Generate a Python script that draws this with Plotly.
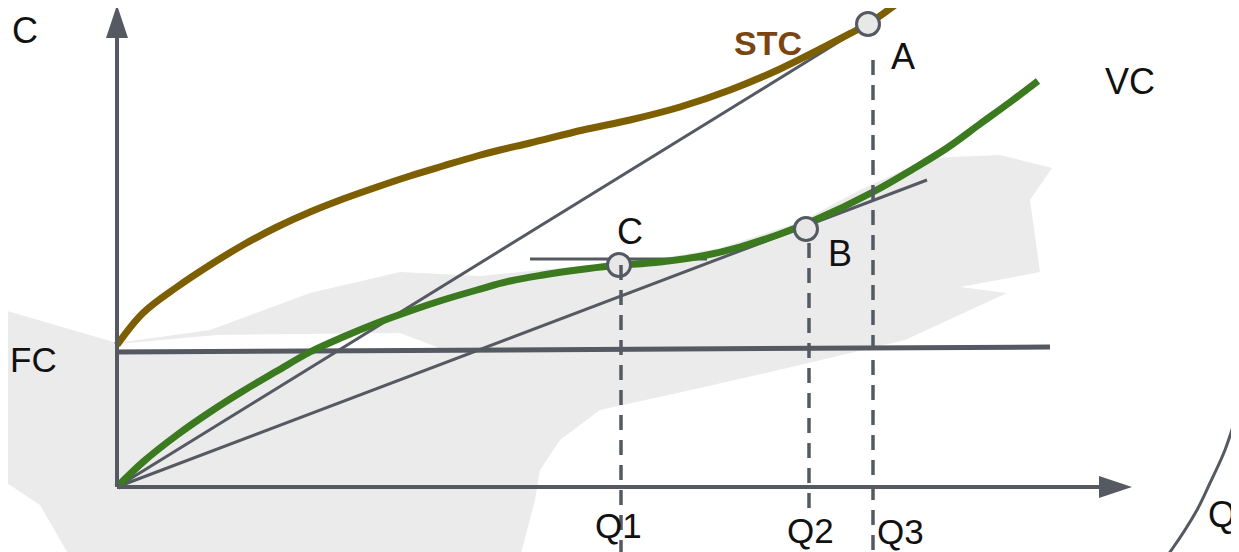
import plotly.graph_objects as go

# ---------------- data (1 unit of Q or C = 100 px in the picture) ----------------
stc_q = [0.00, 0.26, 0.60, 0.93, 1.26, 1.60, 1.93, 2.26, 2.60, 2.93, 3.26, 3.60, 3.83,
         4.13, 4.66, 5.13, 5.63, 6.13, 6.63, 7.38, 7.51, 7.82, 7.98]
stc_c = [1.42, 1.74, 2.00, 2.22, 2.42, 2.60, 2.75, 2.88, 3.00, 3.11, 3.21, 3.31, 3.37,
         3.44, 3.57, 3.67, 3.80, 3.97, 4.18, 4.56, 4.63, 4.85, 4.98]

vc_q = [0.00, 0.26, 0.60, 0.93, 1.26, 1.60, 1.93, 2.26, 2.60, 2.93, 3.26, 3.60, 3.93,
        4.26, 4.60, 4.93, 5.43, 5.85, 6.23, 6.63, 6.96, 7.56, 7.96, 8.30, 8.63, 8.96, 9.21]
vc_c = [0.00, 0.25, 0.52, 0.75, 0.96, 1.16, 1.35, 1.50, 1.64, 1.76, 1.87, 1.97, 2.06,
        2.12, 2.17, 2.21, 2.25, 2.31, 2.40, 2.53, 2.66, 2.95, 3.18, 3.39, 3.63, 3.87, 4.06]

fc_q = [0.00, 9.33]
fc_c = [1.35, 1.40]

point_names = ["A", "B", "C"]
point_q = [7.51, 6.89, 5.02]
point_c = [4.63, 2.58, 2.22]

ray_a_q = [0.00, 7.96]
ray_a_c = [0.00, 4.91]
ray_b_q = [0.00, 8.10]
ray_b_c = [0.00, 3.07]
tangent_c_q = [4.13, 5.90]
tangent_c_c = [2.28, 2.28]

q_labels = ["Q1", "Q2", "Q3"]
q_values = [5.04, 6.92, 7.56]
q_dash_top = [2.22, 2.44, 4.27]
q_dash_bottom = [-0.70, -0.25, -0.70]

# decorative background brush stroke
bg_q = [-1.30, 0.00, 0.93, 1.93, 2.83, 3.63, 4.43, 5.23, 6.03, 6.83, 7.43, 8.13, 8.83,
        9.35, 9.13, 9.23, 8.43, 8.90, 7.88, 6.83, 5.83, 4.83, 4.43, 4.23, 4.18, 4.03,
        -0.47, -0.77, -1.30]
bg_c = [1.82, 1.44, 1.57, 1.94, 2.15, 2.11, 2.19, 2.25, 2.39, 2.65, 2.97, 3.29, 3.32,
        3.19, 2.87, 2.15, 2.00, 1.94, 1.47, 1.22, 0.99, 0.77, 0.47, 0.17, -0.13, -0.70,
        -0.70, -0.18, 0.17]
gap_q = [0.00, 0.00, 1.00, 2.83, 3.20, 3.20]
gap_c = [1.38, 1.43, 1.52, 1.54, 1.40, 1.38]
arc_q = [11.25, 11.21, 11.08, 10.93, 10.80, 10.53, 10.45]
arc_c = [0.92, 0.77, 0.37, 0.04, -0.23, -0.65, -0.75]

x_axis_end = 10.15
y_axis_end = 4.82

# ---------------- styles ----------------
AX = "#555962"
GREEN = "#3b7a1e"
BROWN = "#7d5e00"
FONT = "Liberation Sans, Arial, sans-serif"
PX = 0.01  # data units per pixel

fig = go.Figure()


def line(xs, ys, color, width, dash=None, fill=None, fillcolor=None, shape="linear"):
    fig.add_trace(go.Scatter(
        x=xs, y=ys, mode="lines",
        line=dict(color=color, width=width, dash=dash, shape=shape),
        fill=fill, fillcolor=fillcolor, hoverinfo="skip", showlegend=False))


# background
line(bg_q, bg_c, "rgba(0,0,0,0)", 0, fill="toself", fillcolor="#ebebeb")
line(gap_q, gap_c, "rgba(0,0,0,0)", 0, fill="toself", fillcolor="#ffffff")
line(arc_q, arc_c, AX, 3, shape="spline")

# FC, rays, tangent
line(fc_q, fc_c, AX, 5)
line(ray_a_q, ray_a_c, AX, 3)
line(ray_b_q, ray_b_c, AX, 3)
line(tangent_c_q, tangent_c_c, AX, 3)

# cost curves
line(vc_q, vc_c, GREEN, 7, shape="spline")
line(stc_q, stc_c, BROWN, 7, shape="spline")

# axes
head = 33 * PX
half = 11 * PX
line([0, x_axis_end - head], [0, 0], AX, 4)
line([0, 0], [0, y_axis_end - head], AX, 4)
line([x_axis_end, x_axis_end - head, x_axis_end - head, x_axis_end],
     [0, half, -half, 0], AX, 0, fill="toself", fillcolor=AX)
line([0, half, -half, 0],
     [y_axis_end, y_axis_end - head, y_axis_end - head, y_axis_end], AX, 0, fill="toself", fillcolor=AX)

# points
fig.add_trace(go.Scatter(x=point_q, y=point_c, mode="markers",
                         marker=dict(size=23, color="#e8e8e8", line=dict(color=AX, width=3)),
                         hoverinfo="skip", showlegend=False))

# dashed drop lines
for q, top, bot in zip(q_values, q_dash_top, q_dash_bottom):
    line([q, q], [top, bot], AX, 3.5, dash="15px,10px")


# ---------------- texts ----------------
def text(t, x, y, size=36, color="#111111", bold=False):
    fig.add_annotation(x=x, y=y, text=f"<b>{t}</b>" if bold else t, showarrow=False,
                       xanchor="center", yanchor="middle",
                       font=dict(family=FONT, size=size, color=color))


text("C", -0.92, 4.57)
text("FC", -0.84, 1.28, size=35)
text("STC", 6.51, 4.44, size=34, color="#7a4510", bold=True)
text("VC", 10.13, 4.06)
label_offsets = {"A": (0.35, -0.32), "B": (0.34, -0.24), "C": (0.11, 0.34)}
for n, q, c in zip(point_names, point_q, point_c):
    dx, dy = label_offsets[n]
    text(n, q + dx, c + dy)
q_label_y = [-0.38, -0.435, -0.44]
q_label_dx = [-0.03, 0.01, 0.27]
for lab, q, ly, dx in zip(q_labels, q_values, q_label_y, q_label_dx):
    text(lab, q + dx, ly, size=35)
text("Q", 11.05, -0.27)

# the page places the plot 8 px in from the top-left corner, so the figure is
# 8 px smaller and its ranges start 8 px later
fig.update_layout(
    width=1231, height=544,
    margin=dict(l=0, r=0, t=0, b=0),
    paper_bgcolor="white", plot_bgcolor="white",
    xaxis=dict(range=[-1.09, 11.22], visible=False, fixedrange=True),
    yaxis=dict(range=[-0.65, 4.79], visible=False, fixedrange=True),
    showlegend=False,
)

fig.write_html("out.html")
